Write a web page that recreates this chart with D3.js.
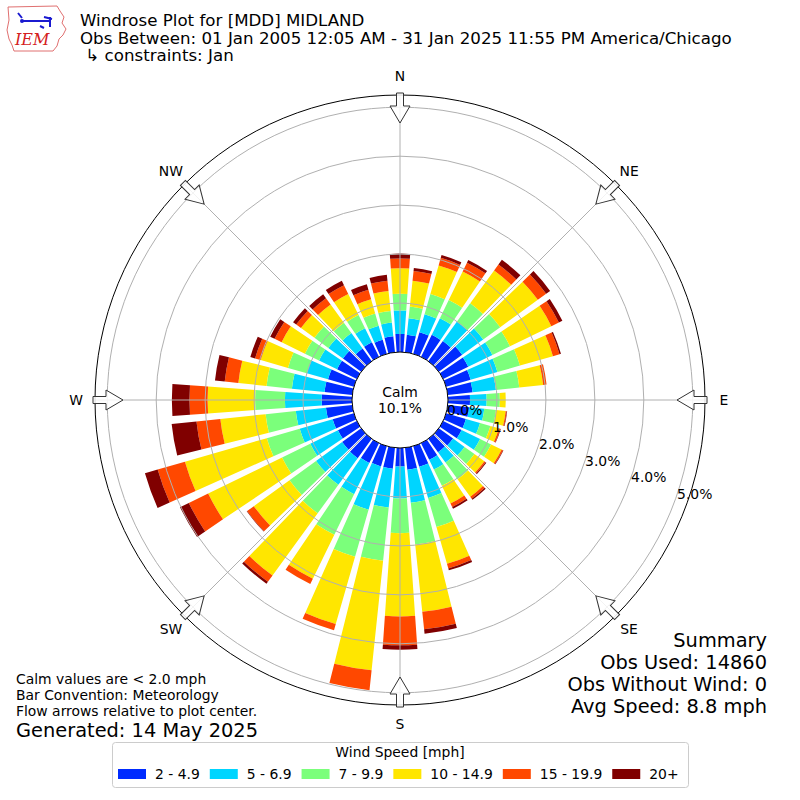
<!DOCTYPE html>
<html><head><meta charset="utf-8">
<script src="https://cdn.jsdelivr.net/npm/d3@7"></script>
<style>body{margin:0;background:#fff}svg{display:block;font-family:"DejaVu Sans",sans-serif}</style>
</head><body>
<div id="chart"></div>
<script>
const directions = [0,10,20,30,40,50,60,70,80,90,100,110,120,130,140,150,160,170,180,190,200,210,220,230,240,250,260,270,280,290,300,310,320,330,340,350];
const speedBins = ["2 - 4.9","5 - 6.9","7 - 9.9","10 - 14.9","15 - 19.9","20+"];
const binColors = ["#002bff","#00d5ff","#7bff7b","#ffe600","#ff4800","#800000"];
const s1 = [0.37,0.36,0.46,0.50,0.51,0.59,0.57,0.52,0.51,0.45,0.44,0.42,0.42,0.36,0.34,0.38,0.44,0.45,0.38,0.43,0.43,0.45,0.49,0.48,0.43,0.45,0.54,0.62,0.57,0.55,0.45,0.46,0.32,0.33,0.30,0.33];
const s2 = [0.48,0.34,0.38,0.38,0.49,0.53,0.55,0.57,0.48,0.34,0.31,0.30,0.42,0.29,0.26,0.22,0.66,0.68,0.65,0.80,0.92,0.71,0.67,0.66,0.63,0.70,0.62,0.75,0.67,0.45,0.41,0.37,0.39,0.32,0.30,0.28];
const s3 = [0.34,0.24,0.43,0.41,0.46,0.43,0.40,0.48,0.48,0.27,0.24,0.22,0.25,0.25,0.42,0.37,0.62,0.86,0.71,1.09,1.00,0.92,0.72,0.67,0.64,0.70,0.62,0.61,0.52,0.40,0.32,0.35,0.26,0.30,0.26,0.24];
const s4 = [0.52,0.53,0.61,0.65,0.83,0.95,0.94,0.70,0.49,0.12,0.20,0.18,0.24,0.25,0.44,0.40,0.78,1.38,1.70,2.25,1.43,1.00,1.57,0.90,1.68,1.74,0.93,0.97,0.58,0.58,0.53,0.34,0.46,0.48,0.30,0.41];
const s5 = [0.20,0.20,0.16,0.20,0.15,0.21,0.17,0.14,0.07,0.00,0.02,0.03,0.03,0.03,0.05,0.08,0.10,0.36,0.59,0.41,0.13,0.12,0.16,0.17,0.44,0.58,0.49,0.37,0.28,0.12,0.16,0.12,0.16,0.20,0.20,0.21];
const s6 = [0.10,0.06,0.06,0.06,0.12,0.10,0.08,0.03,0.00,0.00,0.01,0.01,0.01,0.02,0.03,0.04,0.04,0.09,0.09,0.00,0.00,0.00,0.05,0.01,0.20,0.27,0.51,0.36,0.20,0.10,0.10,0.08,0.10,0.10,0.12,0.12];
const rTicks = [0,1,2,3,4,5];
const compass = [["N",0],["NE",45],["E",90],["SE",135],["S",180],["SW",225],["W",270],["NW",315]];
const calmPct = "10.1%";
const titleLines = ["Windrose Plot for [MDD] MIDLAND","Obs Between: 01 Jan 2005 12:05 AM - 31 Jan 2025 11:55 PM America/Chicago"," \u21b3 constraints: Jan"];
const summaryLines = ["Summary","Obs Used: 14860","Obs Without Wind: 0","Avg Speed: 8.8 mph"];
const noteLines = ["Calm values are < 2.0 mph","Bar Convention: Meteorology","Flow arrows relative to plot center."];
const generated = "Generated: 14 May 2025";

const W = 800, H = 800, cx = 400, cy = 400;
const svg = d3.select("#chart").append("svg").attr("width",W).attr("height",H);
const rad = d3.scaleLinear().domain([0,5.25]).range([48,305]);
const toRad = d => d*Math.PI/180;
const halfW = 4;

const series = [s1,s2,s3,s4,s5,s6];
const g = svg.append("g").attr("transform",`translate(${cx},${cy})`);
const arc = d3.arc();
const segs = [];
directions.forEach((dir,i)=>{
  let cum = 0;
  series.forEach((s,k)=>{
    const v = s[i];
    if (v > 0) segs.push({dir, k, a:cum, b:cum+v});
    cum += v;
  });
});
g.selectAll("path.bar").data(segs).join("path").attr("class","bar")
  .attr("d", d => arc({innerRadius:rad(d.a), outerRadius:rad(d.b), startAngle:toRad(d.dir-halfW), endAngle:toRad(d.dir+halfW)}))
  .attr("fill", d => binColors[d.k]);

// grid rings
g.selectAll("circle.ring").data(rTicks.slice(1)).join("circle").attr("class","ring")
  .attr("r", d=>rad(d)).attr("fill","none").attr("stroke","#b0b0b0").attr("stroke-width",1);
// radial lines
g.selectAll("line.spoke").data(compass).join("line").attr("class","spoke")
  .attr("x1", d=>rad(0)*Math.sin(toRad(d[1]))).attr("y1", d=>-rad(0)*Math.cos(toRad(d[1])))
  .attr("x2", d=>rad(5.25)*Math.sin(toRad(d[1]))).attr("y2", d=>-rad(5.25)*Math.cos(toRad(d[1])))
  .attr("stroke","#b0b0b0").attr("stroke-width",1);
// calm circle
g.append("circle").attr("r",rad(0)).attr("fill","#fff").attr("stroke","#000").attr("stroke-width",1);
// outer circle
g.append("circle").attr("r",rad(5.25)).attr("fill","none").attr("stroke","#000").attr("stroke-width",1);

// arrows
const arrowPts = [[-3.5,307],[3.5,307],[3.5,294],[10,294],[0,277],[-10,294],[-3.5,294]];
g.selectAll("path.arrow").data(compass).join("path").attr("class","arrow")
  .attr("d", "M" + arrowPts.map(p=>`${p[0]},${-p[1]}`).join("L") + "Z")
  .attr("transform", d=>`rotate(${d[1]})`)
  .attr("fill","#fff").attr("fill-opacity",0.85).attr("stroke","#333").attr("stroke-width",1);

// compass labels
g.selectAll("text.cmp").data(compass).join("text").attr("class","cmp")
  .attr("x", d=>324*Math.sin(toRad(d[1]))).attr("y", d=>-324*Math.cos(toRad(d[1])))
  .attr("dy","0.36em").attr("text-anchor","middle").attr("font-size",13.9).text(d=>d[0]);

// radial tick labels
const la = toRad(20);
g.selectAll("text.rl").data(rTicks).join("text").attr("class","rl")
  .attr("x", d=>rad(d)*Math.cos(la)+2).attr("y", d=>rad(d)*Math.sin(la)-1)
  .attr("font-size",13.9).text(d=>d.toFixed(1)+"%");

// calm text
g.append("text").attr("y",-3).attr("text-anchor","middle").attr("font-size",13.9).text("Calm");
g.append("text").attr("y",13).attr("text-anchor","middle").attr("font-size",13.9).text(calmPct);

// title
svg.selectAll("text.title").data(titleLines).join("text").attr("class","title")
  .attr("x",80).attr("y",(d,i)=>26+i*17.5).attr("font-size",16.67)
  .style("white-space","pre").text(d=>d);

// summary
svg.selectAll("text.sum").data(summaryLines).join("text").attr("class","sum")
  .attr("x",767).attr("y",(d,i)=>647+i*22).attr("text-anchor","end").attr("font-size",19.4).text(d=>d);

// notes
svg.selectAll("text.note").data(noteLines).join("text").attr("class","note")
  .attr("x",16).attr("y",(d,i)=>684+i*15.8).attr("font-size",13.9).text(d=>d);
svg.append("text").attr("x",16).attr("y",737).attr("font-size",19.4).text(generated);

// legend
const lg = svg.append("g");
lg.append("rect").attr("x",112.5).attr("y",742.5).attr("width",576).attr("height",45).attr("rx",3)
  .attr("fill","#fff").attr("stroke","#ccc").attr("stroke-width",1);
lg.append("text").attr("x",400).attr("y",757).attr("text-anchor","middle").attr("font-size",13.9).text("Wind Speed [mph]");
let lx = 118;
speedBins.forEach((lab,i)=>{
  lg.append("rect").attr("x",lx).attr("y",769).attr("width",28).attr("height",10).attr("fill",binColors[i]);
  const t = lg.append("text").attr("x",lx+37).attr("y",779).attr("font-size",13.9).text(lab);
  lx = lx + 37 + t.node().getComputedTextLength() + 10;
});

// logo
const logo = svg.append("g");
logo.append("path").attr("d","M8,7 L57,6 L60,11 L64,17 L62,23 L66,29 L63,35 L59,39 L57,46 L53,51 L14,51 L12,45 L9,39 L7,30 L9,20 Z")
  .attr("fill","#fff").attr("stroke","#e07070").attr("stroke-width",1);
logo.append("path").attr("d","M22,21 L50,21 M50,17 L50,27 M44,17 L52,19 M18,13 L22,18 M40,26 L44,28")
  .attr("stroke","#1a1ad0").attr("stroke-width",2).attr("fill","none");
logo.append("circle").attr("cx",22).attr("cy",21).attr("r",2).attr("fill","#1a1ad0");
logo.append("text").attr("x",15).attr("y",45).attr("font-family","DejaVu Serif").attr("font-style","italic")
  .attr("font-size",16).attr("fill","#d42020").text("IEM");
</script>
</body></html>
